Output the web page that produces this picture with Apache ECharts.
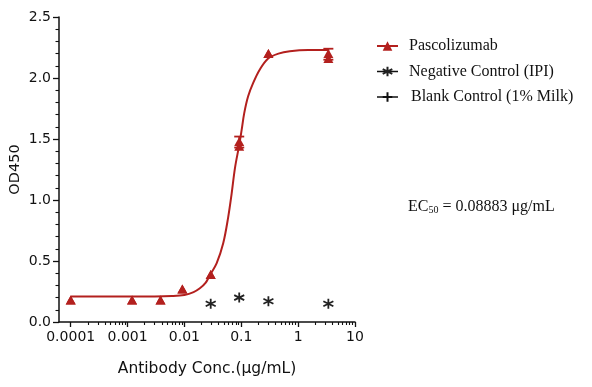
<!DOCTYPE html>
<html><head><meta charset="utf-8">
<script src="https://cdn.jsdelivr.net/npm/echarts@6/dist/echarts.min.js"></script>
<style>html,body{margin:0;padding:0;background:#fff}#c{width:592px;height:387px}</style>
</head><body><div id="c"></div>
<script>
// ---- data ----
const conc       = [0.0001, 0.0012, 0.0038, 0.0092, 0.029, 0.092, 0.30, 3.4];
const pascoRep1  = [0.18, 0.18, 0.18, 0.27, 0.39, 1.48, 2.20, 2.20];
const pascoRep2  = [0.18, 0.18, 0.18, 0.27, 0.39, 1.44, 2.20, 2.16];
const errConc    = [0.092, 3.4];
const errLow     = [1.43, 2.15];
const errHigh    = [1.52, 2.24];
const negConc    = [0.029, 0.092, 0.30, 3.4];
const negOD      = [0.15, 0.20, 0.17, 0.15];
const blankConc  = [];
const blankOD    = [];
const fitConc = [0.0001, 0.001, 0.003, 0.006, 0.01, 0.0145, 0.0187, 0.0235, 0.0281, 0.0368, 0.0481, 0.0589, 0.0676, 0.0773, 0.0919, 0.1012, 0.1125, 0.132, 0.162, 0.212, 0.297, 0.45, 0.714, 1.5, 3.4];
const fitOD   = [0.21, 0.21, 0.21, 0.213, 0.222, 0.245, 0.276, 0.32, 0.385, 0.48, 0.645, 0.86, 1.05, 1.26, 1.45, 1.57, 1.71, 1.85, 1.96, 2.07, 2.16, 2.20, 2.22, 2.23, 2.23];
const xTickVals   = [0.0001, 0.001, 0.01, 0.1, 1, 10];
const xTickLabels = ['0.0001', '0.001', '0.01', '0.1', '1', '10'];
const seriesNames = ['Pascolizumab', 'Negative Control (IPI)', 'Blank Control (1% Milk)'];
const ec50Text = '0.08883 μg/mL';

// minor log ticks 2..9 within each decade
const xMinor = [];
for (let i = 0; i < xTickVals.length - 1; i++) {
  for (let k = 2; k <= 9; k++) xMinor.push(+(xTickVals[i] * k).toPrecision(3));
}

const RED = '#b3201e';
const INK = '#111111';
const xMin = 6.226e-5;

const chart = echarts.init(document.getElementById('c'), null, {renderer: 'canvas'});
const axisFont = {fontFamily: 'DejaVu Sans', fontSize: 14, color: INK};

const option = {
  animation: false,
  backgroundColor: '#fff',
  grid: {left: 59, right: 237, top: 17, bottom: 65, containLabel: false},
  legend: {
    orient: 'vertical', left: 371, top: 33,
    itemWidth: 21, itemHeight: 12, itemGap: 9.5,
    textStyle: {fontFamily: 'Liberation Serif', fontSize: 16, color: INK, padding: [0, 0, 0, 6]},
    data: [
      {name: seriesNames[0]},
      {name: seriesNames[1], lineStyle: {opacity: 1, color: INK, width: 1.5}},
      {name: seriesNames[2], lineStyle: {opacity: 1, color: INK, width: 1.5}, textStyle: {padding: [0, 0, 0, 8]}}
    ]
  },
  xAxis: [{
    type: 'log', logBase: 10, min: xMin, max: 10,
    position: 'bottom',
    name: 'Antibody Conc.(μg/mL)', nameLocation: 'middle', nameGap: 39,
    nameTextStyle: {fontFamily: 'DejaVu Sans', fontSize: 15.5, color: INK},
    axisLine: {show: true, lineStyle: {color: INK, width: 1.5}},
    axisTick: {show: true, length: 5, customValues: xTickVals, lineStyle: {color: INK, width: 1.3}},
    axisLabel: Object.assign({margin: 8, customValues: xTickVals,
      formatter: v => { const i = xTickVals.findIndex(t => Math.abs(Math.log10(t) - Math.log10(v)) < 1e-6); return i >= 0 ? xTickLabels[i] : ''; }}, axisFont),
    splitLine: {show: false}, minorTick: {show: false}
  }, {
    type: 'log', logBase: 10, min: xMin, max: 10,
    position: 'bottom', gridIndex: 0,
    axisLine: {show: false},
    axisTick: {show: true, length: 3, customValues: xMinor, lineStyle: {color: INK, width: 1.1}},
    axisLabel: {show: false, customValues: xMinor},
    splitLine: {show: false}
  }],
  yAxis: {
    type: 'value', min: 0, max: 2.5, interval: 0.5,
    name: 'OD450', nameLocation: 'middle', nameGap: 36,
    nameTextStyle: {fontFamily: 'DejaVu Sans', fontSize: 14.5, color: INK},
    axisLine: {show: true, lineStyle: {color: INK, width: 1.5}},
    axisTick: {show: true, length: 6, lineStyle: {color: INK, width: 1.3}},
    minorTick: {show: true, splitNumber: 5, length: 3.5, lineStyle: {color: INK, width: 1.1}},
    axisLabel: Object.assign({margin: 8, formatter: v => v.toFixed(1)}, axisFont),
    splitLine: {show: false}
  },
  series: [
    {
      name: seriesNames[0], type: 'line', smooth: 0.35, symbol: 'triangle', symbolSize: [9, 8], showSymbol: false,
      data: fitConc.map((x, i) => [x, fitOD[i]]),
      lineStyle: {color: RED, width: 2}, itemStyle: {color: RED}, z: 3
    },
    {
      name: seriesNames[0], type: 'scatter', symbol: 'triangle', symbolSize: [10, 9],
      data: conc.map((x, i) => [x, pascoRep1[i]]).concat(conc.map((x, i) => [x, pascoRep2[i]])),
      itemStyle: {color: RED, opacity: 1}, z: 4
    },
    {
      name: seriesNames[0], type: 'custom',
      data: errConc.map((x, i) => [x, errLow[i], errHigh[i]]),
      renderItem: (params, api) => {
        const lo = api.coord([api.value(0), api.value(1)]);
        const hi = api.coord([api.value(0), api.value(2)]);
        const w = 5;
        const st = {stroke: RED, lineWidth: 1.8};
        return {type: 'group', children: [
          {type: 'line', shape: {x1: lo[0], y1: lo[1], x2: hi[0], y2: hi[1]}, style: st},
          {type: 'line', shape: {x1: lo[0] - w, y1: lo[1], x2: lo[0] + w, y2: lo[1]}, style: st},
          {type: 'line', shape: {x1: hi[0] - w, y1: hi[1], x2: hi[0] + w, y2: hi[1]}, style: st}
        ]};
      }, z: 4
    },
    {
      name: seriesNames[1], type: 'line',
      symbol: 'path://M5,0 L5,10 M0.8,2.5 L9.2,7.5 M9.2,2.5 L0.8,7.5', symbolSize: 10, showSymbol: true,
      data: negConc.map((x, i) => [x, negOD[i]]),
      lineStyle: {opacity: 0, color: INK},
      itemStyle: {color: 'none', borderColor: '#222', borderWidth: 1.8}, z: 4
    },
    {
      name: seriesNames[2], type: 'line',
      symbol: 'path://M0,5 L10,5 M5,0 L5,10', symbolSize: 10,
      data: blankConc.map((x, i) => [x, blankOD[i]]),
      lineStyle: {opacity: 0, color: INK},
      itemStyle: {color: 'none', borderColor: INK, borderWidth: 1.5}, z: 4
    }
  ],
  graphic: [{
    type: 'text', left: 408, top: 199,
    style: {
      text: '{a|EC}{b|50}{a| = ' + ec50Text + '}',
      rich: {
        a: {fontFamily: 'Liberation Serif', fontSize: 16, fill: INK, color: INK},
        b: {fontFamily: 'Liberation Serif', fontSize: 10, fill: INK, color: INK, verticalAlign: 'bottom', padding: [4, 0, 0, 0]}
      }
    }
  }]
};
chart.setOption(option);
</script></body></html>
